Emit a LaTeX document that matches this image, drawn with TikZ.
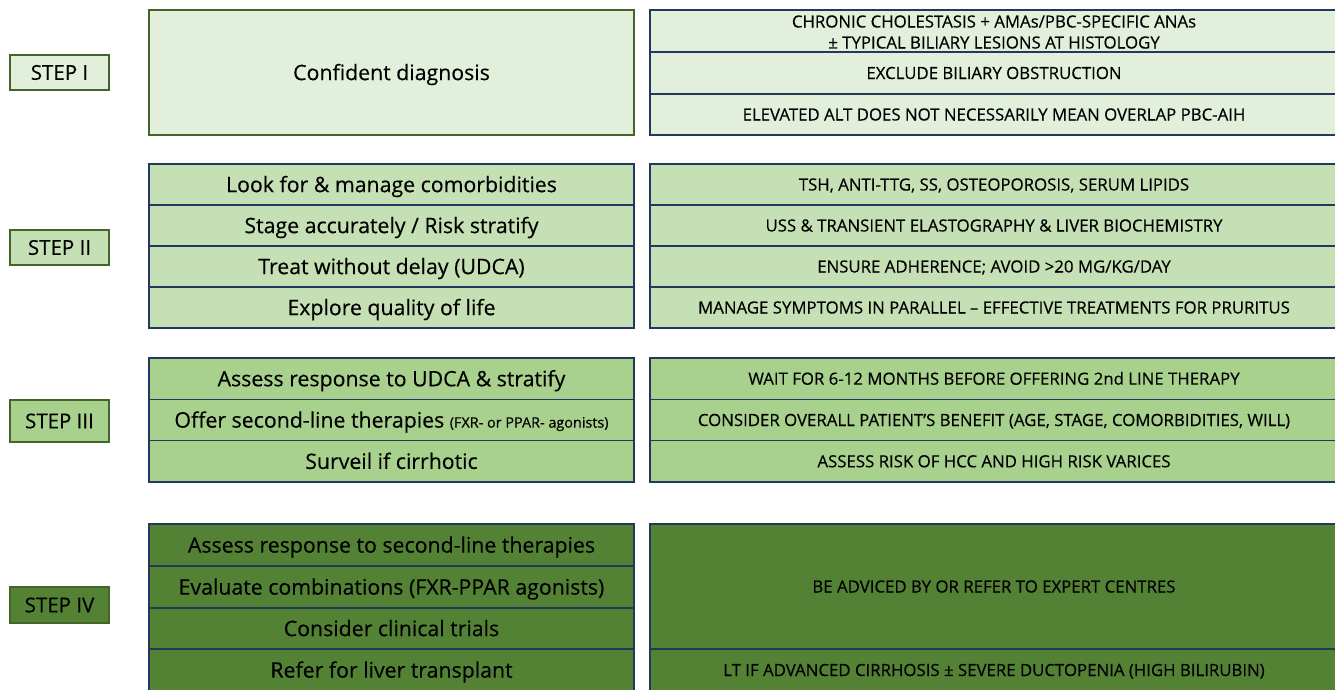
\documentclass[tikz,border=0pt]{standalone}
\usepackage{fontspec}
\setmainfont{Open Sans}[FakeBold=0.3]
\definecolor{fI}{HTML}{E2EFDA}
\definecolor{fII}{HTML}{C5E0B4}
\definecolor{fIII}{HTML}{A9D18E}
\definecolor{fIV}{HTML}{548235}
\definecolor{bgreen}{HTML}{44652A}
\definecolor{bblue}{HTML}{22385E}
\tikzset{
  base/.style={draw, line width=1.6pt, inner sep=0pt, outer sep=0pt, text=black, align=center, text depth=0pt},
  lcell/.style={base, draw=bblue, minimum width=485pt, font=\fontsize{21.3}{24}\selectfont, text height=15.2pt},
  rcell/.style={base, draw=bblue, minimum width=688pt, font=\fontsize{16.8}{21}\selectfont, text height=12pt},
  steplabel/.style={base, draw=bgreen, minimum width=99pt, font=\fontsize{20.5}{23}\selectfont, text height=14.6pt}
}
\begin{document}
\begin{tikzpicture}[x=1pt,y=-1pt]
\useasboundingbox (0,0) rectangle (1335,689);
\clip (0,0) rectangle (1335,689);
\fill[white] (0,0) rectangle (1335,689);

% STEP I
\node[steplabel, fill=fI, minimum height=35pt] (st1) at (59.5,72.5) {STEP I};
\node[lcell, draw=bgreen, fill=fI, minimum height=125pt] (l1) at (391.5,72.5) {Confident diagnosis};
\node[rcell, fill=fI, minimum height=42pt, text height=35pt] (r1a) at (994,31) {CHRONIC CHOLESTASIS + AMAs/PBC-SPECIFIC ANAs\\± TYPICAL BILIARY LESIONS AT HISTOLOGY};
\node[rcell, fill=fI, minimum height=42pt] (r1b) at (994,73) {EXCLUDE BILIARY OBSTRUCTION};
\node[rcell, fill=fI, minimum height=41pt] (r1c) at (994,114.5) {ELEVATED ALT DOES NOT NECESSARILY MEAN OVERLAP PBC-AIH};

% STEP II
\node[steplabel, fill=fII, minimum height=35pt] (st2) at (59.5,247.5) {STEP II};
\node[lcell, fill=fII, minimum height=41pt] (l2a) at (391.5,184.5) {Look for \& manage comorbidities};
\node[lcell, fill=fII, minimum height=41pt] (l2b) at (391.5,225.5) {Stage accurately / Risk stratify};
\node[lcell, fill=fII, minimum height=41pt] (l2c) at (391.5,266.5) {Treat without delay (UDCA)};
\node[lcell, fill=fII, minimum height=41pt] (l2d) at (391.5,307.5) {Explore quality of life};
\node[rcell, fill=fII, minimum height=41pt] (r2a) at (994,184.5) {TSH, ANTI-TTG, SS, OSTEOPOROSIS, SERUM LIPIDS};
\node[rcell, fill=fII, minimum height=41pt] (r2b) at (994,225.5) {USS \& TRANSIENT ELASTOGRAPHY \& LIVER BIOCHEMISTRY};
\node[rcell, fill=fII, minimum height=41pt] (r2c) at (994,266.5) {ENSURE ADHERENCE; AVOID >20 MG/KG/DAY};
\node[rcell, fill=fII, minimum height=41pt] (r2d) at (994,307.5) {MANAGE SYMPTOMS IN PARALLEL – EFFECTIVE TREATMENTS FOR PRURITUS};

% STEP III
\node[steplabel, fill=fIII, minimum height=42pt] (st3) at (59.5,421) {STEP III};
\node[lcell, fill=fIII, minimum height=41.3pt] (l3a) at (391.5,378.7) {Assess response to UDCA \& stratify};
\node[lcell, fill=fIII, minimum height=41.3pt] (l3b) at (391.5,420) {Offer second-line therapies {\fontsize{14.4}{16}\selectfont (FXR- or PPAR- agonists)}};
\node[lcell, fill=fIII, minimum height=41.3pt] (l3c) at (391.5,461.3) {Surveil if cirrhotic};
\node[rcell, fill=fIII, minimum height=41.3pt] (r3a) at (994,378.7) {WAIT FOR 6-12 MONTHS BEFORE OFFERING 2nd LINE THERAPY};
\node[rcell, fill=fIII, minimum height=41.3pt] (r3b) at (994,420) {CONSIDER OVERALL PATIENT’S BENEFIT (AGE, STAGE, COMORBIDITIES, WILL)};
\node[rcell, fill=fIII, minimum height=41.3pt] (r3c) at (994,461.3) {ASSESS RISK OF HCC AND HIGH RISK VARICES};

% STEP IV
\node[steplabel, fill=fIV, minimum height=36pt] (st4) at (59.5,605) {STEP IV};
\node[lcell, fill=fIV, minimum height=42pt] (l4a) at (391.5,545) {Assess response to second-line therapies};
\node[lcell, fill=fIV, minimum height=42pt] (l4b) at (391.5,587) {Evaluate combinations (FXR-PPAR agonists)};
\node[lcell, fill=fIV, minimum height=41pt] (l4c) at (391.5,628.5) {Consider clinical trials};
\node[lcell, fill=fIV, minimum height=42pt] (l4d) at (391.5,670) {Refer for liver transplant};
\node[rcell, fill=fIV, minimum height=125pt] (r4a) at (994,586.5) {BE ADVICED BY OR REFER TO EXPERT CENTRES};
\node[rcell, fill=fIV, minimum height=42pt] (r4b) at (994,670) {LT IF ADVANCED CIRRHOSIS ± SEVERE DUCTOPENIA (HIGH BILIRUBIN)};
\end{tikzpicture}
\end{document}
